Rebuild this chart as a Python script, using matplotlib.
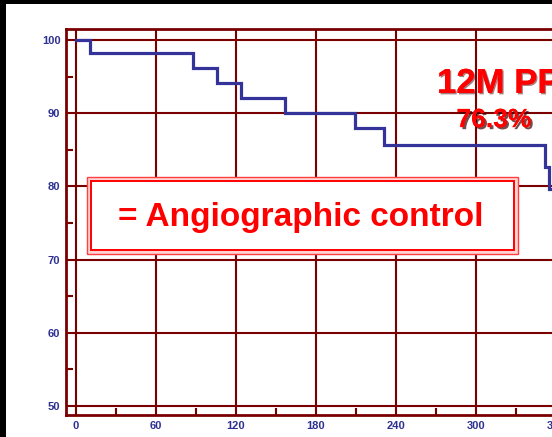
import matplotlib
matplotlib.use('Agg')
import matplotlib.pyplot as plt
import matplotlib.patheffects as pe
from matplotlib.patches import Rectangle

# Kaplan-Meier style patency curve (days vs %)
days = [0, 10.5, 88, 106, 124, 157, 209, 231, 352, 355, 372]
patency = [100, 98.2, 96.2, 94.1, 92.1, 90.0, 88.0, 85.6, 82.7, 79.7, 79.7]

x_ticks = [0, 60, 120, 180, 240, 300, 360]
x_minor = [30, 90, 150, 210, 270, 330]
y_ticks = [50, 60, 70, 80, 90, 100]
y_minor = [55, 65, 75, 85, 95]

grid_red = '#7a0000'
navy = '#2e3192'
red = '#ff0000'

W, H = 552, 437
fig = plt.figure(figsize=(W / 100, H / 100), dpi=100)
fig.patch.set_facecolor('black')
fig.add_artist(Rectangle((6 / W, 0), 1, (H - 4) / H, transform=fig.transFigure,
                         facecolor='white', edgecolor='none', zorder=0))

ax = fig.add_axes([66 / W, 22 / H, 506 / W, 386 / H])
ax.set_facecolor('white')
ax.set_xlim(-7.5, 372)
ax.set_ylim(48.77, 101.5)

for s in ax.spines.values():
    s.set_color(grid_red)
    s.set_linewidth(2.0)

ax.set_xticks(x_ticks)
ax.set_xticks(x_minor, minor=True)
ax.set_yticks(y_ticks)
ax.set_yticks(y_minor, minor=True)
ax.tick_params(axis='both', which='major', length=0, pad=4, colors=navy)
ax.tick_params(axis='both', which='minor', direction='in', length=5, width=1.5,
               color=grid_red)
for lab in ax.get_xticklabels() + ax.get_yticklabels():
    lab.set_fontfamily(['Liberation Sans Narrow', 'Liberation Sans', 'DejaVu Sans'])
    lab.set_fontweight('bold')
    lab.set_fontsize(8)
    lab.set_color(navy)

ax.grid(True, which='major', color=grid_red, linewidth=1.5)
ax.set_axisbelow(True)

ax.plot(days, patency, drawstyle='steps-post', color='#333399', linewidth=2.3,
        zorder=3, solid_joinstyle='miter')

# legend-like box with double red border
ax.add_patch(Rectangle((8.25, 70.77), 323.25, 10.51, facecolor='#ffd4d4',
                       edgecolor='#ff4040', linewidth=1.0, zorder=4))
ax.add_patch(Rectangle((11.25, 71.32), 317.25, 9.41, facecolor='white',
                       edgecolor=red, linewidth=1.4, zorder=5))
ax.text(31.5, 74.59, '= Angiographic control', color=red, fontsize=24,
        fontweight='bold', family=['Liberation Sans', 'DejaVu Sans'],
        ha='left', va='baseline', zorder=6)

shadow = [pe.withSimplePatchShadow(offset=(1.5, -1.5), shadow_rgbFace='#3a0000',
                                   alpha=0.7), pe.Normal()]
ax.text(270.75, 92.76, '12M PP', color=red, fontsize=25, fontweight='bold',
        family=['Liberation Sans', 'DejaVu Sans'], ha='left', va='baseline',
        zorder=6, path_effects=[pe.withSimplePatchShadow(offset=(1, -1),
                                shadow_rgbFace='#500000', alpha=0.5), pe.Normal()])
ax.text(313.5, 88.1, '76.3%', color=red, fontsize=19, fontweight='bold',
        family=['Liberation Sans', 'DejaVu Sans'], ha='center', va='baseline',
        zorder=6, path_effects=shadow)

fig.savefig('out.png', dpi=100, facecolor=fig.get_facecolor())
plt.close(fig)
